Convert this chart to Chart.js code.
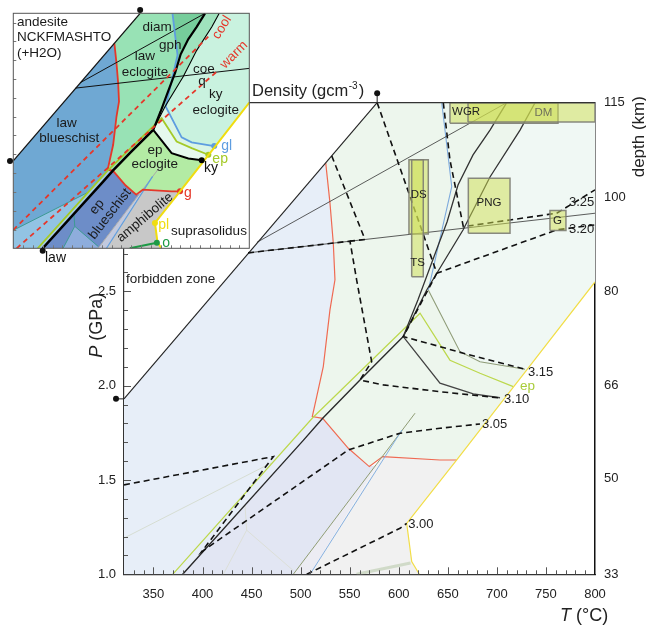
<!DOCTYPE html>
<html>
<head>
<meta charset="utf-8">
<title>andesite NCKFMASHTO density</title>
<script src="https://cdn.jsdelivr.net/npm/chart.js@4.4.1/dist/chart.umd.min.js"></script>
<style>
  body { margin: 0; background: #fff; }
  #wrap { position: relative; width: 646px; height: 627px; }
  #wrap canvas { position: absolute; left: 0; top: 0; }
</style>
</head>
<body>
<div id="wrap">
  <canvas id="main" width="646" height="627"></canvas>
  <canvas id="inset" width="260" height="270"></canvas>
</div>
<script>
// ---- phase boundaries: T in °C, P in GPa ----
var forbT = [320, 578];
var forbP = [1.93, 3.5];

// garnet-in / lawsonite boundary (upper part then lower part)
var redT = [525.6, 529.9, 533.3, 535.0, 529.9, 523.1, 516.4, 511.9, 522.5, 548.6, 570.0, 583.6, 642.0, 659.1];
var redP = [3.18, 2.969, 2.755, 2.561, 2.402, 2.101, 1.942, 1.836, 1.827, 1.668, 1.571, 1.624, 1.606, 1.606];

var epT = [369.6, 512.3, 621.7, 652.2, 682.8, 716.7];
var epP = [1.0, 1.83, 2.384, 2.135, 2.066, 1.995];

var lawT = [379.8, 502.7, 522.5, 560.5, 604.6];
var lawP = [1.0, 1.71, 1.827, 2.03, 2.26];

var steepAT = [604.6, 619.6, 633.9, 640.8, 649.2, 660.4, 675.7, 693, 710];
var steepAP = [2.26, 2.455, 2.656, 2.752, 2.868, 3.064, 3.223, 3.355, 3.5];

var steepBT = [604.6, 628.5, 638.8, 665.5, 693, 723.6, 738.9];
var steepBP = [2.26, 2.507, 2.596, 2.825, 3.106, 3.355, 3.5];

var kyT = [604.6, 642, 676, 703.2];
var kyP = [2.26, 2.013, 1.956, 1.936];

var glT = [643.8, 654, 640.8, 630.1, 662.4, 682.8, 728.7];
var glP = [3.5, 3.055, 2.752, 2.507, 2.18, 2.127, 2.087];

var glLowT = [509.6, 603.3];
var glLowP = [1.0, 1.765];

var greyT = [492.5, 576.8, 616.6];
var greyP = [1.0, 1.58, 1.854];

var solidusT = [800, 729.9, 717.2, 708.4, 659.1, 608.1, 613.2, 621];
var solidusP = [2.55, 2.08, 1.995, 1.936, 1.606, 1.27, 1.067, 1.0];

var diamT = [455.5, 710];
var diamP = [2.76, 3.5];
var coeT = [446.4, 800];
var coeP = [2.704, 2.914];

var tealT = [320, 470];
var tealP = [1.192, 1.59];
var tealJT = [443.3, 445, 421.2];
var tealJP = [1.367, 1.234, 1.0];
var tealKT = [445, 492.5];
var tealKP = [1.234, 1.02];
var oT = [557, 612];
var oP = [1.0, 1.06];

var coolT = [320, 716.6];
var coolP = [1.195, 3.252];
var warmT = [326.8, 733.7];
var warmP = [1.0, 2.879];

// ---- density isopleths (g/cm3) ----
var c300T = [506.2, 601.3, 608.1];
var c300P = [1.0, 1.244, 1.27];
var c305T = [320, 472.2, 399.2, 548.6, 601.3, 642, 682.8];
var c305P = [1.474, 1.624, 1.12, 1.659, 1.748, 1.774, 1.797];
var c310T = [446.4, 550.3, 557.1, 572.4, 560.5, 584.2, 642, 701.4];
var c310P = [2.704, 2.766, 2.56, 2.127, 2.03, 2.004, 1.968, 1.936];
var c310bT = [531.7, 565.6, 550.3];
var c310bP = [3.218, 2.775, 2.766];
var c315T = [638.8, 604.6, 642, 665.8, 728.7];
var c315P = [2.596, 2.26, 2.207, 2.172, 2.087];
var c320T = [578, 623.4, 638.8, 761, 800];
var c320P = [3.5, 2.826, 2.596, 2.826, 2.852];
var c325T = [645.4, 652.2, 665.8, 761, 800];
var c325P = [3.5, 3.196, 2.843, 2.914, 3.038];

var densLabels = ['3.25', '3.20', '3.15', '3.10', '3.05', '3.00'];
var densLabelT = [773.5, 773.5, 731.7, 707.3, 684.8, 609.7];
var densLabelP = [2.969, 2.826, 2.069, 1.928, 1.795, 1.265];

// ---- natural eclogite P-T boxes ----
var boxNames = ['WGR', 'DM', 'DS', 'TS', 'PNG', 'G'];
var boxT0 = [652.2, 670.6, 610.4, 613.2, 670.9, 754.1];
var boxT1 = [762.3, 800, 630.1, 625, 713.4, 770.4];
var boxP0 = [3.391, 3.398, 2.804, 2.578, 2.808, 2.822];
var boxP1 = [3.5, 3.5, 3.197, 3.197, 3.1, 2.928];
var boxLabelT = [654.3, 747.5, 620.4, 619.2, 692, 761.8];
var boxLabelP = [3.453, 3.444, 3.011, 2.649, 2.97, 2.873];

// ---- axes ----
var tempTicks = [350, 400, 450, 500, 550, 600, 650, 700, 750, 800];
var presTicks = [1.0, 1.5, 2.0, 2.5, 3.0, 3.5];
var depthKm = [33, 50, 66, 80, 100, 115];
var depthP = [1.0, 1.51, 2.0, 2.5, 3.0, 3.5];

var FONT = '"Liberation Sans", Arial, Helvetica, sans-serif';
Chart.defaults.font.family = FONT;
Chart.defaults.color = '#222';

function pts(T, P) {
  return T.map(function (t, i) { return { x: t, y: P[i] }; });
}
function part(T, P, a, b) {
  var out = [], step = a <= b ? 1 : -1;
  for (var i = a; i !== b + step; i += step) out.push({ x: T[i], y: P[i] });
  return out;
}
function corner(t, p) { return [{ x: t, y: p }]; }

// field outlines built from the boundaries above
var areaLawBlue = [].concat(part(forbT, forbP, 0, 0), part(redT, redP, 0, 8), part(lawT, lawP, 2, 0), corner(320, 1.0));
var areaLawLow = [].concat(corner(320, 1.0), part(tealT, tealP, 0, 1), part(epT, epP, 0, 0));
var areaStrip = [].concat(part(epT, epP, 0, 1), part(lawT, lawP, 2, 0));
var areaEpBlue = [].concat(part(lawT, lawP, 0, 2), part(redT, redP, 9, 10), part(greyT, greyP, 1, 0));
var areaEpBlueLow = [].concat(part(tealJT, tealJP, 2, 1), part(tealKT, tealKP, 1, 1), part(greyT, greyP, 0, 0));
var areaGreyStrip = [].concat(part(greyT, greyP, 0, 1), part(redT, redP, 11, 11), part(glLowT, glLowP, 0, 0));
var areaAmph = [].concat(part(glLowT, glLowP, 0, 0), part(redT, redP, 11, 13), part(solidusT, solidusP, 5, 7));
var areaEclogite = [].concat(part(forbT, forbP, 1, 1), corner(800, 3.5), part(solidusT, solidusP, 0, 4), part(redT, redP, 12, 0));
var areaLawEcl = [].concat(part(redT, redP, 0, 8), part(lawT, lawP, 3, 4), part(steepBT, steepBP, 1, 1), part(glT, glP, 3, 0), part(forbT, forbP, 1, 1));
var areaGph = [].concat(part(glT, glP, 0, 2), part(steepAT, steepAP, 3, 8));
var areaAB = [].concat(part(steepAT, steepAP, 0, 8), part(steepBT, steepBP, 6, 0));
var areaMint = [].concat(part(steepBT, steepBP, 1, 6), corner(800, 3.5), part(solidusT, solidusP, 0, 1), part(glT, glP, 6, 3));
var areaGlPale = [].concat(part(steepBT, steepBP, 0, 1), part(glT, glP, 3, 6), part(solidusT, solidusP, 1, 2), part(epT, epP, 5, 2));
var areaKyPale = [].concat(part(kyT, kyP, 0, 0), part(epT, epP, 2, 5), part(solidusT, solidusP, 2, 3), part(kyT, kyP, 3, 1));
var areaEpEcl = [].concat(part(lawT, lawP, 2, 4), part(kyT, kyP, 1, 3), part(solidusT, solidusP, 3, 4), part(redT, redP, 12, 9));

function area(points, color) {
  return { data: points, showLine: true, fill: 'shape', backgroundColor: color,
           borderWidth: 0, pointRadius: 0 };
}
function line(points, color, width, dash, dotAt) {
  return { data: points, showLine: true, fill: false, borderColor: color, borderWidth: width,
           borderDash: dash || [], dotAt: dotAt, pointBackgroundColor: color, pointBorderWidth: 0,
           pointRadius: function (c) { return c.dataIndex === c.dataset.dotAt ? 3 : 0; } };
}
function boxSet(i) {
  var p = [{ x: boxT0[i], y: boxP0[i] }, { x: boxT1[i], y: boxP0[i] }, { x: boxT1[i], y: boxP1[i] },
           { x: boxT0[i], y: boxP1[i] }, { x: boxT0[i], y: boxP0[i] }];
  return { data: p, showLine: true, fill: 'shape', backgroundColor: 'rgba(205,222,80,0.5)',
           borderColor: 'rgba(125,125,115,0.9)', borderWidth: 1.5, pointRadius: 0 };
}
function stackOrder(sets) {
  sets.forEach(function (d, i) { d.order = sets.length - i; });
  return sets;
}

var DASH = [6, 4];
var mainSets = stackOrder([
  area(areaLawBlue, '#e7eef8'),
  area(areaEclogite, '#edf6ed'),
  area(areaMint, '#f0f8f4'),
  area(areaEpBlue, '#e2e6f3'),
  area(areaGreyStrip, '#ececf3'),
  area(areaAmph, '#f1f1f1'),
  line(pts(tealT, tealP), '#d6ddd2', 1),
  line(pts(tealJT, tealJP), '#dcdfd8', 1),
  line(pts(tealKT, tealKP), '#dcdfd8', 1),
  line(pts(oT, oP), 'rgba(196,210,186,0.75)', 3),
  line(pts(redT, redP), '#ef6a52', 1.2),
  line(pts(greyT, greyP), '#8f9c74', 1),
  line(pts(glLowT, glLowP), '#86b0e0', 1),
  Object.assign(line(pts(glT, glP), '#7eaadd', 1.1), {
    segment: { borderColor: function (c) { return c.p0DataIndex >= 3 ? '#8f9c78' : '#7eaadd'; } }
  }),
  line(pts(epT, epP), '#bcd84c', 1.2),
  line(pts(solidusT, solidusP), '#f2de48', 1.2),
  line(pts(diamT, diamP), '#333', 0.8),
  line(pts(coeT, coeP), '#333', 0.8),
  line(pts(lawT, lawP), '#2a2a2a', 1.4),
  line(pts(steepAT, steepAP), '#333', 1.3),
  line(pts(steepBT, steepBP), '#333', 1.3),
  line(pts(kyT, kyP), '#444', 1.3),
  line(pts(forbT, forbP), '#222', 1.1),
  line(pts(c300T, c300P), '#111', 1.6, DASH),
  line(pts(c305T, c305P), '#111', 1.6, DASH),
  line(pts(c310T, c310P), '#111', 1.6, DASH),
  line(pts(c310bT, c310bP), '#111', 1.6, DASH),
  line(pts(c315T, c315P), '#111', 1.6, DASH),
  line(pts(c320T, c320P), '#111', 1.6, DASH),
  line(pts(c325T, c325P), '#111', 1.6, DASH),
  boxSet(0), boxSet(1), boxSet(2), boxSet(3), boxSet(4), boxSet(5)
]);

var RED = '#e5372a', LIME = '#a5ca28', BLUE = '#5e9de0', YEL = '#f0dd10', GRN = '#1c9a45';
var insetSets = stackOrder([
  area(areaEclogite, '#98e2b5'),
  area(areaLawBlue, '#6fa8d3'),
  area(areaLawLow, '#92c3e3'),
  area(areaStrip, '#a4cbe6'),
  area(areaEpBlue, '#6d8dc8'),
  area(areaEpBlueLow, '#8eaddc'),
  area(areaGreyStrip, '#c2c9de'),
  area(areaAmph, '#c8c8c8'),
  area(areaLawEcl, '#98e2b5'),
  area(areaAB, '#9fe3bd'),
  area(areaGph, '#76cd9b'),
  area(areaMint, '#c9f2df'),
  area(areaGlPale, '#daf5e6'),
  area(areaKyPale, '#e6f9ee'),
  area(areaEpEcl, '#b3eba4'),
  line(pts(tealT, tealP), '#3d9a93', 1),
  line(pts(tealJT, tealJP), '#3d9a93', 1),
  line(pts(tealKT, tealKP), '#3d9a93', 1),
  line(pts(greyT, greyP), '#a9a9a9', 1),
  line(pts(glLowT, glLowP), BLUE, 1.2),
  line(pts(redT, redP), RED, 1.8, null, redT.length - 1),
  line(pts(diamT, diamP), '#111', 1),
  line(pts(coeT, coeP), '#111', 1),
  line(pts(glT, glP), BLUE, 1.8, null, glT.length - 1),
  line(pts(epT, epP), LIME, 1.8, null, epT.length - 1),
  line(pts(solidusT, solidusP), YEL, 2, null, 5),
  line(pts(oT, oP), GRN, 2, null, oT.length - 1),
  line(pts(lawT, lawP), '#000', 2.5),
  line(pts(steepAT, steepAP), '#000', 2.2),
  line(pts(steepBT, steepBP), '#000', 1.1),
  line(pts(kyT, kyP), '#000', 2, null, kyT.length - 1),
  line(pts(forbT, forbP), '#111', 1.2),
  line(pts(coolT, coolP), RED, 1.8, [5, 4]),
  line(pts(warmT, warmP), RED, 1.8, [5, 4])
]);

var insetNotes = [
  { text: 'andesite', T: 327.5, P: 3.407, align: 'left' },
  { text: 'NCKFMASHTO', T: 327.5, P: 3.245, align: 'left' },
  { text: '(+H2O)', T: 327.5, P: 3.074, align: 'left' },
  { text: 'diam', T: 612.3, P: 3.351 },
  { text: 'gph', T: 639.3, P: 3.163 },
  { text: 'law', T: 587.8, P: 3.038 },
  { text: 'eclogite', T: 587.8, P: 2.868 },
  { text: 'coe', T: 707.8, P: 2.904 },
  { text: 'q', T: 703.8, P: 2.772 },
  { text: 'ky', T: 731.8, P: 2.638 },
  { text: 'eclogite', T: 731.6, P: 2.471 },
  { text: 'law', T: 428.6, P: 2.33 },
  { text: 'blueschist', T: 433.7, P: 2.17 },
  { text: 'ep', T: 608.2, P: 2.046 },
  { text: 'eclogite', T: 607.6, P: 1.894 },
  { text: 'ep', T: 490.2, P: 1.439, rot: -52 },
  { text: 'blueschist', T: 516.7, P: 1.365, rot: -52 },
  { text: 'amphibolite', T: 587.8, P: 1.328, rot: -40 },
  { text: 'suprasolidus', T: 718, P: 1.177 },
  { text: 'cool', T: 744.4, P: 3.349, rot: -58, color: RED },
  { text: 'warm', T: 768.9, P: 3.057, rot: -45, color: RED }
];
// labels hung off the end dots of the reactions
var endNotes = [
  { text: 'gl', T: glT[6], P: glP[6], dx: 7, dy: 0, color: BLUE },
  { text: 'ep', T: epT[5], P: epP[5], dx: 4, dy: 4.5, color: LIME },
  { text: 'ky', T: kyT[3], P: kyP[3], dx: 2.4, dy: 8, color: '#111' },
  { text: 'g', T: redT[13], P: redP[13], dx: 4, dy: 2, color: RED },
  { text: 'pl', T: solidusT[5], P: solidusP[5], dx: 3.3, dy: 2, color: YEL },
  { text: 'o', T: oT[1], P: oP[1], dx: 5.3, dy: 0.6, color: GRN },
  { text: 'law', T: lawT[0], P: lawP[0], dx: 2.3, dy: 10, color: '#111' }
];

function write(ctx, s, x, y, size, color, align, style) {
  ctx.font = (style || '') + ' ' + size + 'px ' + FONT;
  ctx.fillStyle = color || '#222';
  ctx.textAlign = align || 'left';
  ctx.textBaseline = 'middle';
  ctx.fillText(s, x, y);
}
function dot(ctx, x, y, r, color) {
  ctx.fillStyle = color;
  ctx.beginPath();
  ctx.arc(x, y, r, 0, Math.PI * 2);
  ctx.fill();
}

var mainDecor = {
  id: 'mainDecor',
  afterDraw: function (chart) {
    var ctx = chart.ctx, a = chart.chartArea;
    var sx = chart.scales.x, sy = chart.scales.y;
    var X = function (t) { return sx.getPixelForValue(t); };
    var Y = function (p) { return sy.getPixelForValue(p); };
    ctx.save();

    ctx.strokeStyle = '#333';
    ctx.lineWidth = 1.2;
    ctx.beginPath();
    ctx.moveTo(a.left, a.top);
    ctx.lineTo(a.right, a.top);
    ctx.stroke();

    // inward ticks, 10 °C and 0.1 GPa
    ctx.strokeStyle = '#555';
    ctx.lineWidth = 1;
    ctx.beginPath();
    for (var t = 330; t < 800; t += 10) {
      var x = Math.round(X(t)) + 0.5;
      ctx.moveTo(x, a.bottom);
      ctx.lineTo(x, a.bottom - (t % 50 === 0 ? 7 : 4));
    }
    for (var k = 11; k < 35; k++) {
      var y = Math.round(Y(k / 10)) + 0.5;
      ctx.moveTo(a.left, y);
      ctx.lineTo(a.left + (k % 5 === 0 ? 7 : 4), y);
    }
    ctx.stroke();

    // ends of the forbidden-zone line
    ctx.strokeStyle = '#222';
    ctx.beginPath();
    ctx.moveTo(a.left - 8, Y(forbP[0]));
    ctx.lineTo(a.left, Y(forbP[0]));
    ctx.moveTo(X(forbT[1]), a.top - 9.5);
    ctx.lineTo(X(forbT[1]), a.top);
    ctx.stroke();
    dot(ctx, a.left - 8, Y(forbP[0]), 3, '#111');
    dot(ctx, X(forbT[1]), a.top - 9.5, 3, '#111');

    write(ctx, 'forbidden zone', X(322), Y(2.564), 13.5);

    // Density (gcm-3) heading
    var hx = a.left + 128, hy = a.top - 11;
    ctx.font = '16.5px ' + FONT;
    var w1 = ctx.measureText('Density (gcm').width;
    write(ctx, 'Density (gcm', hx, hy, 16.5, '#222');
    write(ctx, '-3', hx + w1 + 0.5, hy - 5, 10, '#222');
    ctx.font = '10px ' + FONT;
    var w2 = ctx.measureText('-3').width;
    write(ctx, ')', hx + w1 + w2 + 1.5, hy, 16.5, '#222');

    for (var i = 0; i < densLabels.length; i++) {
      write(ctx, densLabels[i], X(densLabelT[i]), Y(densLabelP[i]), 13);
    }
    write(ctx, 'ep', X(723.6), Y(1.998), 13.5, '#a9cc3a');

    for (var b = 0; b < boxNames.length; b++) {
      var left = boxNames[b] === 'WGR';
      write(ctx, boxNames[b], X(boxLabelT[b]), Y(boxLabelP[b]), 11.5,
            boxNames[b] === 'DM' ? '#6f705c' : '#222', left ? 'left' : 'center');
    }

    // axis titles
    ctx.font = 'italic 18px ' + FONT;
    var tw = ctx.measureText('T').width;
    write(ctx, 'T', a.right - 35, a.bottom + 42, 18, '#222', 'left', 'italic');
    write(ctx, ' (°C)', a.right - 35 + tw, a.bottom + 42, 18, '#222', 'left');

    ctx.save();
    ctx.translate(97, Y(2.32));
    ctx.rotate(-Math.PI / 2);
    ctx.font = 'italic 18px ' + FONT;
    var pw = ctx.measureText('P').width;
    ctx.font = '18px ' + FONT;
    var gw = ctx.measureText(' (GPa)').width;
    write(ctx, 'P', -(pw + gw) / 2, 0, 18, '#222', 'left', 'italic');
    write(ctx, ' (GPa)', -(pw + gw) / 2 + pw, 0, 18, '#222', 'left');
    ctx.restore();

    ctx.save();
    ctx.translate(639, a.top + 34);
    ctx.rotate(-Math.PI / 2);
    write(ctx, 'depth (km)', 0, 0, 17, '#222', 'center');
    ctx.restore();

    ctx.restore();
  }
};

var insetDecor = {
  id: 'insetDecor',
  beforeDraw: function (chart) {
    var a = chart.chartArea, ctx = chart.ctx;
    ctx.save();
    ctx.fillStyle = '#fff';
    ctx.fillRect(a.left, a.top, a.right - a.left, a.bottom - a.top);
    ctx.restore();
  },
  afterDraw: function (chart) {
    var ctx = chart.ctx, a = chart.chartArea;
    var sx = chart.scales.x, sy = chart.scales.y;
    var X = function (t) { return sx.getPixelForValue(t); };
    var Y = function (p) { return sy.getPixelForValue(p); };
    ctx.save();

    ctx.strokeStyle = '#777';
    ctx.lineWidth = 1;
    ctx.beginPath();
    for (var k = 12; k < 35; k += 2) {
      var y = Math.round(Y(k / 10)) + 0.5;
      ctx.moveTo(a.left, y);
      ctx.lineTo(a.left + 3, y);
    }
    for (var t = 340; t < 800; t += 20) {
      var x = Math.round(X(t)) + 0.5;
      ctx.moveTo(x, a.bottom);
      ctx.lineTo(x, a.bottom - 3);
    }
    ctx.stroke();

    ctx.strokeStyle = '#555';
    ctx.strokeRect(a.left, a.top, a.right - a.left, a.bottom - a.top);

    dot(ctx, X(forbT[1]), a.top - 3.3, 3, '#111');
    dot(ctx, a.left - 3.3, Y(forbP[0]), 3, '#111');
    dot(ctx, X(lawT[0]), a.bottom + 2.4, 3, '#111');

    insetNotes.forEach(function (n) {
      var px = X(n.T), py = Y(n.P);
      if (n.rot) {
        ctx.save();
        ctx.translate(px, py);
        ctx.rotate(n.rot * Math.PI / 180);
        write(ctx, n.text, 0, 0, 13.5, n.color || '#1a1a1a', 'center');
        ctx.restore();
      } else {
        write(ctx, n.text, px, py, 13.5, n.color || '#1a1a1a', n.align || 'center');
      }
    });
    endNotes.forEach(function (n) {
      write(ctx, n.text, X(n.T) + n.dx, Y(n.P) + n.dy, 14, n.color, 'left');
    });
    ctx.restore();
  }
};

new Chart(document.getElementById('main'), {
  type: 'scatter',
  data: { datasets: mainSets },
  options: {
    responsive: false,
    animation: false,
    events: [],
    layout: { padding: { top: 102.7, left: 0, right: 0, bottom: 0 } },
    plugins: { legend: { display: false }, tooltip: { enabled: false } },
    scales: {
      x: {
        type: 'linear', position: 'bottom', min: 320, max: 800,
        grid: { display: false, drawTicks: false },
        border: { display: true, color: '#333', width: 1.2 },
        ticks: { padding: 12, font: { size: 13 }, color: '#222', autoSkip: false, maxRotation: 0 },
        afterBuildTicks: function (s) { s.ticks = tempTicks.map(function (v) { return { value: v }; }); },
        afterFit: function (s) { s.height = 52.7; }
      },
      y: {
        type: 'linear', position: 'left', min: 1, max: 3.5,
        grid: { display: false, drawTicks: false },
        border: { display: true, color: '#333', width: 1.2 },
        ticks: { padding: 8, font: { size: 13 }, color: '#222', autoSkip: false,
                 callback: function (v) { return Number(v).toFixed(1); } },
        afterBuildTicks: function (s) { s.ticks = presTicks.map(function (v) { return { value: v }; }); },
        afterFit: function (s) { s.width = 124; }
      },
      y2: {
        type: 'linear', position: 'right', min: 1, max: 3.5,
        grid: { display: false, drawTicks: false },
        border: { display: true, color: '#111', width: 1.5 },
        ticks: { padding: 9, font: { size: 13 }, color: '#222', autoSkip: false,
                 callback: function (v, i) { return depthKm[i]; } },
        afterBuildTicks: function (s) { s.ticks = depthP.map(function (v) { return { value: v }; }); },
        afterFit: function (s) { s.width = 51; }
      }
    }
  },
  plugins: [mainDecor]
});

new Chart(document.getElementById('inset'), {
  type: 'scatter',
  data: { datasets: insetSets },
  options: {
    responsive: false,
    animation: false,
    events: [],
    layout: { padding: { left: 13.3, top: 13.3, right: 10.7, bottom: 21.7 } },
    plugins: { legend: { display: false }, tooltip: { enabled: false } },
    scales: {
      x: { type: 'linear', display: false, min: 320, max: 800 },
      y: { type: 'linear', display: false, min: 1, max: 3.5 }
    }
  },
  plugins: [insetDecor]
});
</script>
</body>
</html>
